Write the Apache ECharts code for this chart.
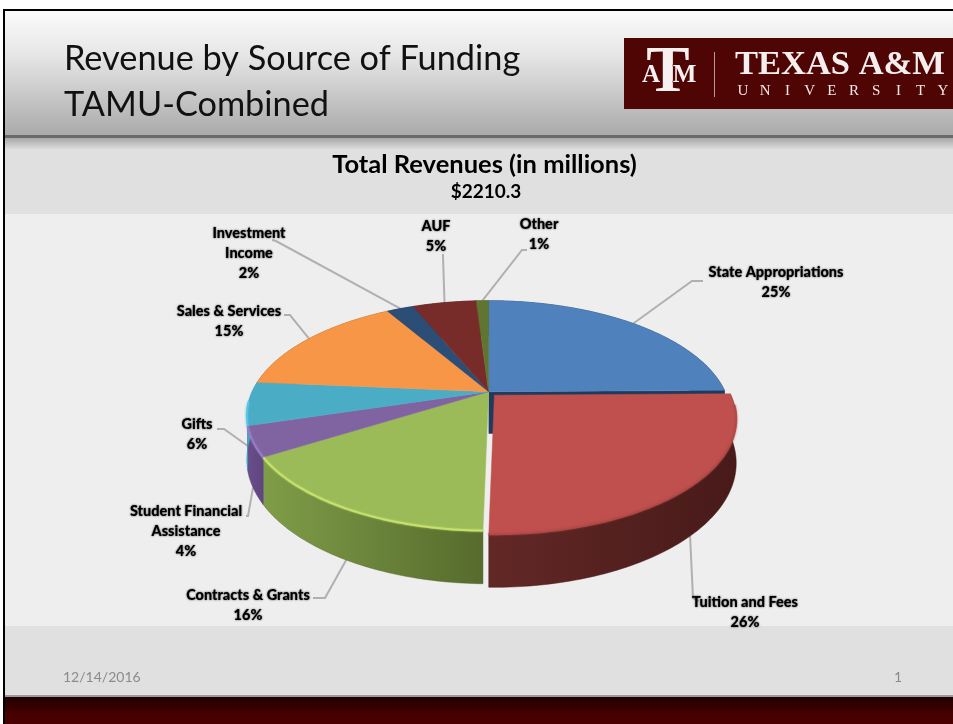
<!DOCTYPE html>
<html><head><meta charset="utf-8">
<style>html,body{margin:0;padding:0;background:#fff}#c{width:953px;height:724px}</style>
<script src="https://cdn.jsdelivr.net/npm/echarts@6/dist/echarts.min.js"></script>
</head><body><div id="c"></div>
<script>
// ---- data ----
const categories = ['State Appropriations','Tuition and Fees','Contracts & Grants','Student Financial\nAssistance','Gifts','Sales & Services','Investment\nIncome','AUF','Other'];
const shares = [24.8,25.5,15.8,4.2,6.1,15.2,2.2,5.2,1.0];
const slideTitle = ['Revenue by Source of Funding','TAMU-Combined'];
const chartTitle = 'Total Revenues (in millions)';
const chartTotal = '$2210.3';
const footerDate = '12/14/2016';
const footerPage = '1';
// ---- styles and layout ----
const faceColors = ['#4f81bd','#c0504d','#9bbb59','#8064a2','#4bacc6','#f79646','#2c4d75','#772c2a','#5f7530'];
const wallLeft  = ['#2f4f78','#622826','#7f9d48','#6a4e8a','#3db4d8','#b06a2e','#1f3755','#5a201f','#45561f'];
const wallRight = ['#1f3b5c','#471a19','#566b2d','#5f4580','#3595b5','#90561f','#1a2f48','#4a1b1a','#3a4a1a'];
const rimColors = ['#4f81bd','#b04a46','#c9e46e','#9a7ec4','#58c8ea','#f79646','#2c4d75','#772c2a','#5f7530'];
const labelPos = [[776,272],[745,602],[248,595],[186,511],[197,424],[229,311],[249,233],[436,226],[539,224]];
const leaderBends = [[[692,281],[703,281]],[[693,598],[699,601]],[[325,598],[313,598]],[[248,516],[246,516]],[[224,429],[217,429]],[[290,315],[284,315]],[[276,241],[272,240]],[[443,256],[443,254]],[[522,250],[527,250]]];
const PIE = {cx:488.6, cy:391.7, R:236.5, Ry:110, k:0.2087, h:42, explode:1, ox:5.8, oy:3.5};

function proj(deg, extra, off){
  const a = deg*Math.PI/180, u = Math.sin(a), v = -Math.cos(a), w = 1-PIE.k*v;
  return [PIE.cx+(off?PIE.ox:0)+PIE.R*u/w, PIE.cy+(off?PIE.oy:0)+PIE.Ry*v/w+(extra?PIE.h/w:0)];
}
function arc(a0,a1,extra,off){
  const p=[], n=Math.max(2,Math.ceil(a1-a0));
  for(let i=0;i<=n;i++) p.push(proj(a0+(a1-a0)*i/n,extra,off));
  return p;
}
const total = shares.reduce((s,v)=>s+v,0);
function grad(a,b){return {type:'linear',x:0,y:0,x2:1,y2:0,colorStops:[{offset:0,color:a},{offset:1,color:b}]};}

function renderSlice(params, api){
  const i = params.dataIndex;
  let start = 0;
  for(let j=0;j<i;j++) start += shares[j];
  const a0 = start/total*360, a1 = (start+api.value(0))/total*360, off = i===PIE.explode;
  const top = arc(a0,a1,false,off), bot = arc(a0,a1,true,off);
  const apex = [PIE.cx+(off?PIE.ox:0), PIE.cy+(off?PIE.oy:0)];
  const kids = [];
  kids.push({type:'polygon',z2:10+i,shape:{points:top.concat(bot.slice().reverse())},
    style:{fill:grad(wallLeft[i],wallRight[i]),stroke:wallRight[i],lineWidth:0.5}});
  if(i+1===PIE.explode){
    const e0=proj(a1,false,false), e1=proj(a1,true,false);
    kids.push({type:'polygon',z2:25,shape:{points:[apex,e0,e1,[apex[0],apex[1]+PIE.h]]},style:{fill:wallRight[i]}});
  }
  kids.push({type:'polygon',z2:30+i,shape:{points:[apex].concat(top)},style:{fill:faceColors[i],stroke:faceColors[i],lineWidth:0.5}});
  // lit bevel on the front part of the rim
  const fa0=Math.max(a0,95), fa1=Math.min(a1,265);
  if(fa1>fa0){
    kids.push({type:'polyline',z2:45,shape:{points:arc(fa0,fa1,false,off)},
      style:{stroke:rimColors[i],fill:null,lineWidth:2,opacity:0.85,shadowBlur:2,shadowColor:rimColors[i]}});
  }
  // leader line starts on the rim at the slice's middle angle
  const mid=(a0+a1)/2, front=-Math.cos(mid*Math.PI/180)>0;
  const startPt=proj(mid,front,off);
  kids.push({type:'polyline',z2:5,shape:{points:[startPt].concat(leaderBends[i])},
    style:{stroke:'#b0b0b0',fill:null,lineWidth:2}});
  const pct=Math.round(api.value(0))+'%';
  kids.push({type:'text',z2:60,style:{text:categories[i]+'\n'+pct,x:labelPos[i][0],y:labelPos[i][1]-10,
    align:'center',verticalAlign:'top',fontFamily:'Lato',fontWeight:900,fontSize:14.5,lineHeight:20,fill:'#000',
    textShadowColor:'rgba(0,0,0,0.75)',textShadowBlur:2}});
  return {type:'group',children:kids};
}

// university wordmark letters, spaced out one by one
const wordmark = 'UNIVERSITY'.split('').map((ch,i)=>({type:'text',style:{text:ch,x:743+i*22.2,y:91.5,align:'center',verticalAlign:'middle',
  fontFamily:'Liberation Serif',fontSize:15,fill:'#f2e9e9'}}));
const emblem = (t,x,y,s)=>({type:'text',style:{text:t,x:x,y:y,align:'center',verticalAlign:'middle',fontFamily:'Liberation Serif',fontWeight:'bold',fontSize:s,fill:'#f6f0f0',stroke:'#500505',lineWidth:1}});
const bg = [
  {type:'rect',shape:{x:0,y:0,width:953,height:724},style:{fill:'#fff'}},
  {type:'rect',shape:{x:3,y:9,width:950,height:715},style:{fill:'#000'}},
  {type:'rect',shape:{x:5,y:11,width:948,height:126},style:{fill:{type:'linear',x:0,y:0,x2:0,y2:1,colorStops:[{offset:0,color:'#fbfbfb'},{offset:0.35,color:'#e6e6e6'},{offset:0.75,color:'#c0c0c0'},{offset:1,color:'#a9a9a9'}]}}},
  {type:'rect',shape:{x:5,y:137,width:948,height:560},style:{fill:'#e0e0e0'}},
  {type:'rect',shape:{x:5,y:135,width:948,height:3},style:{fill:'#6a6a6a'}},
  {type:'rect',shape:{x:5,y:138,width:948,height:12},style:{fill:{type:'linear',x:0,y:0,x2:0,y2:1,colorStops:[{offset:0,color:'#a8a8a8'},{offset:1,color:'#e0e0e0'}]}}},
  {type:'rect',shape:{x:5,y:214,width:948,height:412},style:{fill:'#eeeeee'}},
  {type:'rect',shape:{x:5,y:695,width:948,height:2},style:{fill:'#9a9a9a'}},
  {type:'rect',shape:{x:5,y:697,width:948,height:27},style:{fill:{type:'linear',x:0,y:0,x2:0,y2:1,colorStops:[{offset:0,color:'#1f0000'},{offset:0.6,color:'#460000'},{offset:1,color:'#4a0000'}]}}},
  {type:'text',style:{text:slideTitle[0],x:64,y:59,verticalAlign:'middle',fontFamily:'Lato',fontSize:34.3,fill:'#111'}},
  {type:'text',style:{text:slideTitle[1],x:64,y:105,verticalAlign:'middle',fontFamily:'Lato',fontSize:34.3,fill:'#111'}},
  {type:'rect',shape:{x:624,y:38,width:329,height:71},style:{fill:'#500505'}},
  emblem('T',668,74,65), emblem('A',651,76,25), emblem('M',684.5,76,25),
  {type:'rect',shape:{x:714,y:52,width:1,height:45},style:{fill:'#b79a9a'}},
  {type:'text',style:{text:'TEXAS A&M',x:735,y:65,verticalAlign:'middle',fontFamily:'Liberation Serif',fontWeight:'bold',fontSize:34.5,fill:'#f4eeee'}},
  ...wordmark,
  {type:'text',style:{text:chartTitle,x:484.5,y:165,align:'center',verticalAlign:'middle',fontFamily:'Lato',fontWeight:'bold',fontSize:25.5,fill:'#000'}},
  {type:'text',style:{text:chartTotal,x:486,y:192,align:'center',verticalAlign:'middle',fontFamily:'Lato',fontWeight:'bold',fontSize:19,fill:'#000'}},
  {type:'text',style:{text:footerDate,x:63,y:677,verticalAlign:'middle',fontFamily:'Lato',fontSize:14,fill:'#8b8b8b'}},
  {type:'text',style:{text:footerPage,x:894,y:677,verticalAlign:'middle',fontFamily:'Lato',fontSize:14,fill:'#8b8b8b'}}
];
const chart = echarts.init(document.getElementById('c'),null,{renderer:'canvas'});
chart.setOption({
  animation:false,
  graphic:{elements:bg},
  series:[{type:'custom',coordinateSystem:'none',silent:true,data:shares,renderItem:renderSlice,z:5}]
});
</script></body></html>
